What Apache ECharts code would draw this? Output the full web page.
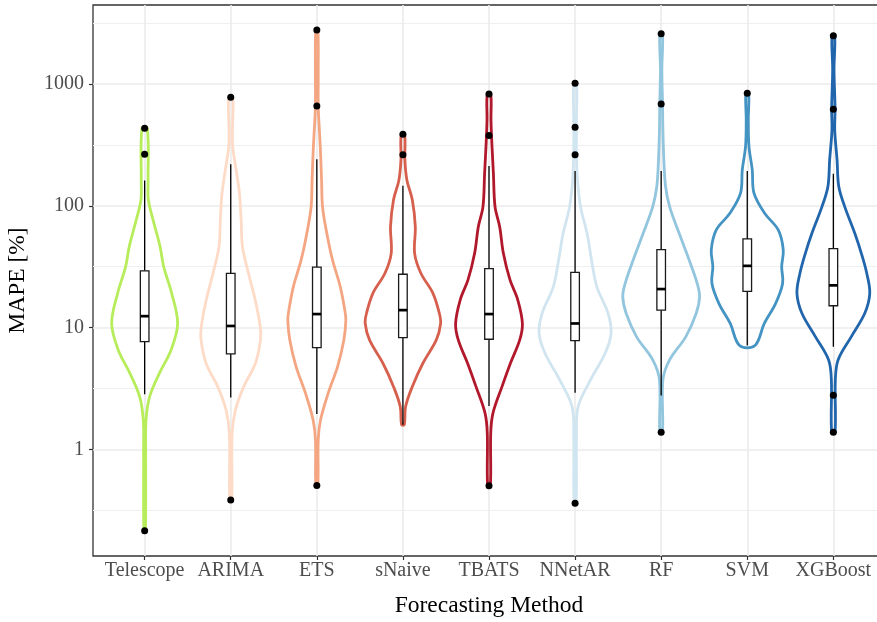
<!DOCTYPE html>
<html>
<head>
<meta charset="utf-8">
<script src="https://cdn.jsdelivr.net/npm/echarts@6/dist/echarts.min.js"></script>
<style>
html,body{margin:0;padding:0;background:#fff;}
#chart{width:877px;height:622px;}
</style>
</head>
<body>
<div id="chart"></div>
<script>
// ---------------- DATA ----------------
const methods = ['Telescope', 'ARIMA', 'ETS', 'sNaive', 'TBATS', 'NNetAR', 'RF', 'SVM', 'XGBoost'];
const methodColors = ['#B7EC5A', '#FDDBC7', '#F4A582', '#D6604D', '#B2182B', '#D1E5F0', '#92C5DE', '#4393C3', '#2166AC'];

// y-axis (log) tick labels
const yMajorTicks = [1, 10, 100, 1000];
const yMinorTicks = [0.316, 3.16, 31.6, 316, 3162];

// boxplot statistics (MAPE %)
const whiskerLow  = [2.83, 2.66, 1.95, 1.59, 2.27, 2.92, 2.76, 7.11, 6.97];
const q1          = [7.67, 6.07, 6.84, 8.27, 8.01, 7.81, 13.9, 19.8, 15.1];
const medians     = [12.4, 10.3, 12.9, 13.9, 12.9, 10.8, 20.7, 32.1, 22.2];
const q3          = [29.2, 27.9, 31.3, 27.4, 30.5, 28.4, 43.6, 53.4, 44.5];
const whiskerHigh = [161, 219, 241, 146, 212, 193, 193, 193, 183];

// outliers per method (MAPE %)
const outliers = [
  [433, 265, 0.214],
  [778, 0.384],
  [2776, 660, 0.504],
  [386, 263],
  [828, 377, 0.501],
  [1013, 441, 263, 0.361],
  [2590, 685, 1.38],
  [838],
  [2494, 619, 2.78, 1.38]
];

// violin density profiles: [MAPE %, half-width in category units]
const violinTelescope = [[433,.031],[163,.040],[112,.043],[76.5,.098],[46.2,.179],[31.6,.221],[19.1,.314],[10.8,.383],[6.55,.307],[4.21,.171],[2.71,.058],[1.74,.016],[0.93,.012],[0.214,.009]];
const violinARIMA = [[778,.023],[419,.020],[306,.023],[197,.063],[127,.101],[76.5,.121],[46.2,.136],[27.9,.206],[16.9,.284],[10.2,.342],[7.91,.345],[5.09,.287],[3.27,.151],[2.11,.055],[1.35,.016],[0.384,.012]];
const violinETS = [[2776,.012],[1303,.016],[660,.016],[506,.023],[306,.040],[163,.055],[98.4,.066],[59.4,.116],[35.9,.182],[21.7,.272],[13.9,.325],[11.5,.337],[7.91,.314],[4.78,.241],[2.89,.132],[1.74,.043],[1.19,.016],[0.504,.012]];
const violinSNaive = [[386,.020],[238,.023],[163,.046],[112,.109],[67.4,.144],[40.7,.136],[27.9,.209],[19.1,.349],[13.1,.423],[10.8,.438],[7.91,.388],[5.09,.232],[3.27,.109],[2.24,.031],[1.59,.016]];
const violinTBATS = [[828,.020],[506,.023],[306,.035],[185,.051],[98.4,.070],[67.4,.124],[40.7,.167],[24.6,.244],[16.9,.334],[10.8,.388],[7.91,.357],[5.09,.249],[3.27,.151],[1.98,.046],[1.35,.020],[0.501,.016]];
const violinNNetAR = [[1013,.016],[506,.016],[270,.016],[163,.028],[98.4,.063],[59.4,.139],[35.9,.191],[21.7,.252],[13.1,.383],[8.97,.418],[6.15,.349],[3.71,.179],[2.24,.035],[1.27,.016],[0.361,.012]];
const violinRF = [[2590,.016],[1303,.008],[685,.016],[419,.020],[238,.031],[144,.051],[98.4,.098],[59.4,.209],[35.9,.325],[23.1,.418],[17.9,.446],[13.1,.407],[8.43,.287],[5.42,.098],[3.71,.020],[1.38,.016]];
const violinSVM = [[838,.016],[506,.012],[306,.020],[197,.058],[127,.078],[86.8,.202],[63.3,.360],[43.4,.418],[31.6,.400],[23.1,.411],[15.8,.330],[10.8,.198],[7.11,.089]];
const violinXGBoost = [[2494,.016],[1303,.008],[619,.020],[419,.016],[238,.043],[144,.063],[98.4,.132],[59.4,.249],[40.7,.325],[27.9,.388],[19.1,.423],[13.1,.365],[8.43,.209],[5.42,.055],[3.71,.023],[1.38,.020]];

const violins = [violinTelescope, violinARIMA, violinETS, violinSNaive, violinTBATS, violinNNetAR, violinRF, violinSVM, violinXGBoost];

// ---------------- CHART ----------------
const FONT = 'Liberation Serif';
const chart = echarts.init(document.getElementById('chart'), null, {renderer: 'canvas'});

const series = [];
methods.forEach(function (m, i) {
  series.push({
    type: 'custom',
    name: m + ' violin',
    xAxisIndex: 0, yAxisIndex: 0,
    data: [[i, medians[i]]],
    silent: true,
    clip: false,
    z: 2,
    renderItem: function (params, api) {
      const prof = violins[i];
      const right = prof.map(function (p) { return api.coord([i + p[1], p[0]]); });
      const left = prof.slice().reverse().map(function (p) { return api.coord([i - p[1], p[0]]); });
      return {
        type: 'polygon',
        shape: {points: right.concat(left), smooth: 0.35},
        style: {fill: 'none', stroke: methodColors[i], lineWidth: 2.8, lineJoin: 'round'}
      };
    }
  });
});

const boxData = methods.map(function (m, i) {
  return [i, whiskerLow[i], q1[i], medians[i], q3[i], whiskerHigh[i]];
});
series.push({
  type: 'custom',
  name: 'box',
  data: boxData,
  silent: true,
  z: 3,
  renderItem: function (params, api) {
    const x = api.value(0);
    const bw = 0.05;
    const pLow = api.coord([x, api.value(1)]);
    const pQ1l = api.coord([x - bw, api.value(2)]);
    const pQ1r = api.coord([x + bw, api.value(2)]);
    const pMedl = api.coord([x - bw, api.value(3)]);
    const pMedr = api.coord([x + bw, api.value(3)]);
    const pQ3l = api.coord([x - bw, api.value(4)]);
    const pHigh = api.coord([x, api.value(5)]);
    const pQ1c = api.coord([x, api.value(2)]);
    const pQ3c = api.coord([x, api.value(4)]);
    const stroke = '#1a1a1a';
    return {
      type: 'group',
      children: [
        {type: 'line', shape: {x1: pLow[0], y1: pLow[1], x2: pQ1c[0], y2: pQ1c[1]}, style: {stroke: '#000', lineWidth: 1.3}},
        {type: 'line', shape: {x1: pQ3c[0], y1: pQ3c[1], x2: pHigh[0], y2: pHigh[1]}, style: {stroke: '#000', lineWidth: 1.3}},
        {type: 'rect', shape: {x: pQ3l[0], y: pQ3l[1], width: pQ1r[0] - pQ1l[0], height: pQ1l[1] - pQ3l[1]}, style: {fill: '#fff', stroke: stroke, lineWidth: 1.3}},
        {type: 'line', shape: {x1: pMedl[0], y1: pMedl[1], x2: pMedr[0], y2: pMedr[1]}, style: {stroke: '#000', lineWidth: 2.7}}
      ]
    };
  }
});

const outlierData = [];
outliers.forEach(function (arr, i) { arr.forEach(function (v) { outlierData.push([i, v]); }); });
series.push({
  type: 'scatter',
  name: 'outliers',
  data: outlierData,
  symbol: 'circle',
  symbolSize: 7,
  itemStyle: {color: '#000', opacity: 1},
  silent: true,
  z: 4
});

const option = {
  backgroundColor: '#fff',
  animation: false,
  grid: {left: 93, top: 5, right: -8, bottom: 66, containLabel: false, outerBoundsMode: 'none',
         show: true, borderColor: '#333333', borderWidth: 1.3, backgroundColor: 'transparent'},
  xAxis: {
    type: 'value',
    min: -0.6, max: 8.6,
    name: 'Forecasting Method',
    nameLocation: 'middle',
    nameGap: 38,
    nameTextStyle: {fontFamily: FONT, fontSize: 23.5, color: '#000'},
    axisLine: {show: false, onZero: false},
    axisTick: {show: true, length: 4, lineStyle: {color: '#333', width: 1.2}, customValues: [0, 1, 2, 3, 4, 5, 6, 7, 8]},
    axisLabel: {
      customValues: [0, 1, 2, 3, 4, 5, 6, 7, 8],
      formatter: function (v) { return methods[Math.round(v)]; },
      fontFamily: FONT, fontSize: 20, color: '#4D4D4D', margin: 5
    },
    splitLine: {show: true, lineStyle: {color: '#EBEBEB', width: 1.6}}
  },
  yAxis: [{
    type: 'log',
    logBase: 10,
    min: 0.133, max: 4454,
    position: 'left',
    name: 'MAPE [%]',
    nameLocation: 'middle',
    nameGap: 63,
    nameTextStyle: {fontFamily: FONT, fontSize: 23.5, color: '#000'},
    axisLine: {show: false, onZero: false},
    axisTick: {show: true, length: 4, lineStyle: {color: '#333', width: 1.2}, customValues: yMajorTicks},
    axisLabel: {
      customValues: yMajorTicks,
      formatter: function (v) { return String(Math.round(v)); },
      fontFamily: FONT, fontSize: 20, color: '#4D4D4D', margin: 9
    },
    splitLine: {show: true, lineStyle: {color: '#EBEBEB', width: 1.6}},
    minorSplitLine: {show: false}
  }, {
    type: 'log',
    logBase: 10,
    min: 0.133, max: 4454,
    position: 'left',
    axisLine: {show: false, onZero: false},
    axisTick: {show: false, customValues: yMinorTicks},
    axisLabel: {show: false, customValues: yMinorTicks},
    splitLine: {show: true, lineStyle: {color: '#EFEFEF', width: 1.1}}
  }],
  series: series
};
chart.setOption(option);
</script>
</body>
</html>
